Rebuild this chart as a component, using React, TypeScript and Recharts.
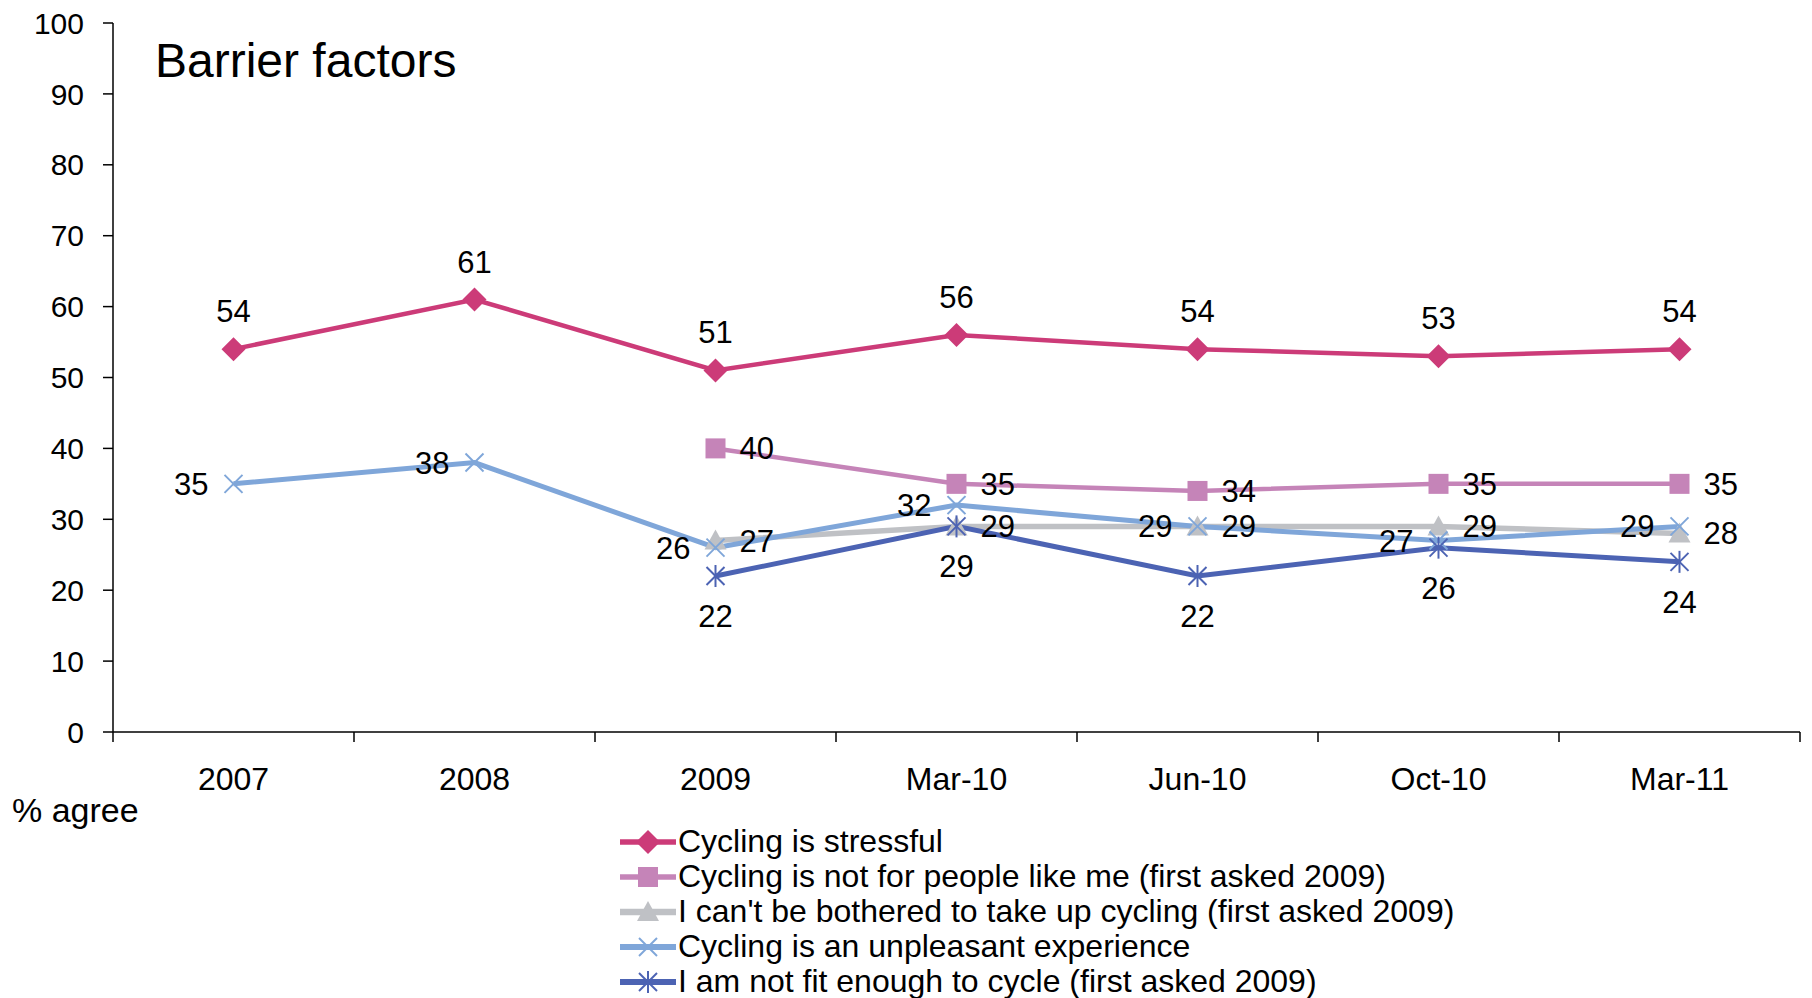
import React from 'react';
import { LineChart, Line, XAxis, YAxis, Legend, LabelList } from 'recharts';

const periods = ['2007', '2008', '2009', 'Mar-10', 'Jun-10', 'Oct-10', 'Mar-11'];
const stressful = [54, 61, 51, 56, 54, 53, 54];
const notForMe = [null, null, 40, 35, 34, 35, 35];
const cantBeBothered = [null, null, 27, 29, 29, 29, 28];
const unpleasant = [35, 38, 26, 32, 29, 27, 29];
const notFit = [null, null, 22, 29, 22, 26, 24];
const yTicks = [0, 10, 20, 30, 40, 50, 60, 70, 80, 90, 100];

const FONT = '"Liberation Sans", Arial, sans-serif';
const W = 1812;
const H = 998;
const Y_AXIS_W = 113;
const MARGIN = { top: 23, right: 12, left: 0, bottom: 206 };
const BAND = (W - Y_AXIS_W - MARGIN.right) / periods.length;

const data = periods.map((p, i) => ({
    period: p,
    stressful: stressful[i],
    notForMe: notForMe[i],
    cantBeBothered: cantBeBothered[i],
    unpleasant: unpleasant[i],
    notFit: notFit[i],
}));

type Shape = 'diamond' | 'square' | 'triangle' | 'x' | 'star';

const series: { key: string; name: string; color: string; width: number; shape: Shape; pos: 'top' | 'right' | 'left' | 'bottom'; offset: number }[] = [
    { key: 'stressful', name: 'Cycling is stressful', color: '#CC3B78', width: 4.5, shape: 'diamond', pos: 'top', offset: 27 },
    { key: 'notForMe', name: 'Cycling is not for people like me (first asked 2009)', color: '#C584B8', width: 4.5, shape: 'square', pos: 'right', offset: 24 },
    { key: 'cantBeBothered', name: "I can't be bothered to take up cycling (first asked 2009)", color: '#BFC1C5', width: 5.5, shape: 'triangle', pos: 'right', offset: 24 },
    { key: 'unpleasant', name: 'Cycling is an unpleasant experience', color: '#7FA6D9', width: 5, shape: 'x', pos: 'left', offset: 25 },
    { key: 'notFit', name: 'I am not fit enough to cycle (first asked 2009)', color: '#4C63B3', width: 5, shape: 'star', pos: 'bottom', offset: 29 },
];

// marker glyphs, roughly like the Excel ones
const Marker = ({ shape, cx, cy, color }: { shape: Shape; cx: number; cy: number; color: string }) => {
    switch (shape) {
        case 'diamond':
            return <polygon points={`${cx},${cy - 12} ${cx + 12},${cy} ${cx},${cy + 12} ${cx - 12},${cy}`} fill={color} />;
        case 'square':
            return <rect x={cx - 10} y={cy - 10} width={20} height={20} fill={color} />;
        case 'triangle':
            return <polygon points={`${cx},${cy - 11} ${cx + 11},${cy + 9} ${cx - 11},${cy + 9}`} fill={color} />;
        case 'x':
            return (
                <g stroke={color} strokeWidth={2}>
                    <line x1={cx - 9} y1={cy - 9} x2={cx + 9} y2={cy + 9} />
                    <line x1={cx - 9} y1={cy + 9} x2={cx + 9} y2={cy - 9} />
                </g>
            );
        case 'star':
            return (
                <g stroke={color} strokeWidth={2}>
                    <line x1={cx - 9} y1={cy - 9} x2={cx + 9} y2={cy + 9} />
                    <line x1={cx - 9} y1={cy + 9} x2={cx + 9} y2={cy - 9} />
                    <line x1={cx} y1={cy - 11} x2={cx} y2={cy + 11} />
                </g>
            );
    }
    return null;
};

const makeDot = (shape: Shape, color: string) => (props: any) => {
    const { cx, cy, value, index } = props;
    if (value == null || cx == null || cy == null) return <g key={`d-${index}`} />;
    return <g key={`d-${index}`}><Marker shape={shape} cx={cx} cy={cy} color={color} /></g>;
};

// category label centred, tick marks on the band edges like Excel
const XTick = (props: any) => {
    const { x, y, payload, index } = props;
    const axisY = y - 10;
    const left = x - BAND / 2;
    return (
        <g>
            <line x1={left} y1={axisY} x2={left} y2={axisY + 10} stroke="#000" strokeWidth={1.5} />
            {index === periods.length - 1 && (
                <line x1={x + BAND / 2} y1={axisY} x2={x + BAND / 2} y2={axisY + 10} stroke="#000" strokeWidth={1.5} />
            )}
            <text x={x} y={axisY + 58} textAnchor="middle" fontSize={32} fontFamily={FONT} fill="#000">
                {payload.value}
            </text>
        </g>
    );
};

const LegendContent = () => (
    <div style={{ fontFamily: FONT, fontSize: 32, color: '#000' }}>
        {series.map((s) => (
            <div key={s.key} style={{ display: 'flex', alignItems: 'center', height: 35, whiteSpace: 'nowrap' }}>
                <svg width={58} height={30} style={{ marginRight: 0 }}>
                    <line x1={0} y1={15} x2={56} y2={15} stroke={s.color} strokeWidth={s.width + 1} />
                    <Marker shape={s.shape} cx={28} cy={15} color={s.color} />
                </svg>
                <span>{s.name}</span>
            </div>
        ))}
    </div>
);

export default function App() {
    return (
        <div style={{ position: 'absolute', left: 0, top: 0, width: W, height: H, background: '#fff' }}>
            <LineChart width={W} height={H} data={data} margin={MARGIN}>
                <XAxis
                    dataKey="period"
                    scale="band"
                    height={60}
                    interval={0}
                    tickLine={false}
                    tickSize={10}
                    tickMargin={0}
                    axisLine={{ stroke: '#000', strokeWidth: 1.5 }}
                    tick={<XTick />}
                />
                <YAxis
                    width={Y_AXIS_W}
                    domain={[0, 100]}
                    ticks={yTicks}
                    interval={0}
                    tickSize={10}
                    tickMargin={19}
                    axisLine={{ stroke: '#000', strokeWidth: 1.5 }}
                    tickLine={{ stroke: '#000', strokeWidth: 1.5 }}
                    tick={{ fontSize: 30, fontFamily: FONT, fill: '#000' }}
                />
                <Legend
                    layout="vertical"
                    align="center"
                    verticalAlign="middle"
                    content={<LegendContent />}
                    wrapperStyle={{ left: 620, top: 824, width: 950, height: 180 }}
                />
                {series.map((s) => (
                    <Line
                        key={s.key}
                        dataKey={s.key}
                        name={s.name}
                        stroke={s.color}
                        strokeWidth={s.width}
                        dot={makeDot(s.shape, s.color)}
                        activeDot={false}
                        isAnimationActive={false}
                    >
                        <LabelList
                            dataKey={s.key}
                            position={s.pos}
                            offset={s.offset}
                            fontSize={31}
                            fontFamily={FONT}
                            fill="#000"
                            formatter={(v: any) => (v == null ? '' : v)}
                        />
                    </Line>
                ))}
            </LineChart>
            <div style={{ position: 'absolute', left: 155, top: 37, fontFamily: FONT, fontSize: 48, lineHeight: 1, color: '#000' }}>
                Barrier factors
            </div>
            <div style={{ position: 'absolute', left: 12, top: 793, fontFamily: FONT, fontSize: 34, lineHeight: 1, color: '#000' }}>
                % agree
            </div>
        </div>
    );
}
